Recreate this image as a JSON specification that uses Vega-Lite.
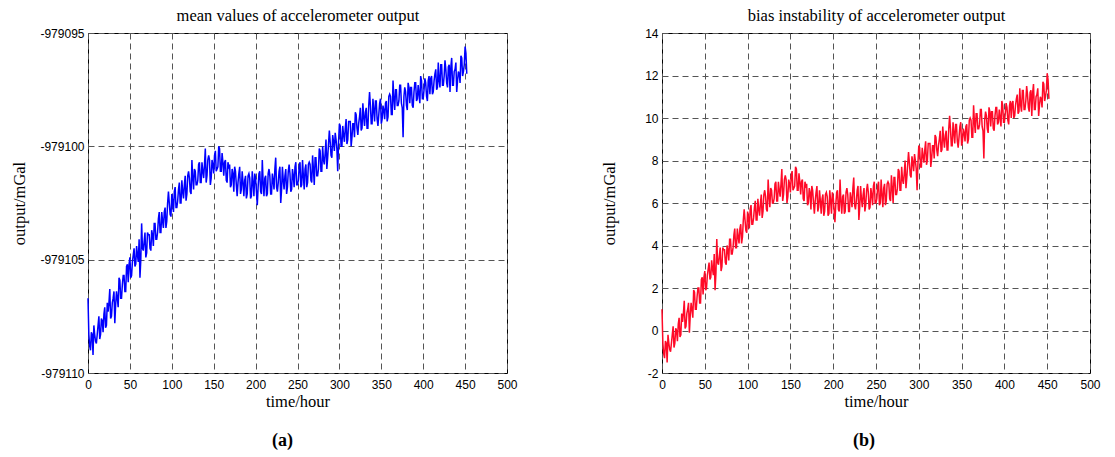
{
  "$schema": "https://vega.github.io/schema/vega-lite/v6.json",
  "background": "white",
  "padding": {"left": 11, "top": 6, "right": 5, "bottom": 2},
  "spacing": 83,
  "config": {
    "view": {"stroke": "black", "strokeWidth": 1},
    "axis": {
      "labelFont": "Liberation Sans",
      "labelFontSize": 12,
      "labelColor": "black",
      "titleFont": "Liberation Serif",
      "titleFontSize": 16.5,
      "titleFontWeight": "normal",
      "titleColor": "black",
      "ticks": false,
      "domain": false,
      "gridColor": "#555555",
      "gridDash": [6, 4],
      "gridWidth": 1,
      "gridOpacity": 1
    },
    "title": {"font": "Liberation Serif", "fontSize": 18, "fontWeight": "bold", "color": "black"}
  },
  "data": {"values": [
    {"t":0,"m":-979106.7,"b":1.0},{"t":2,"m":-979108.8,"b":-1.1},{"t":4,"m":-979108.2,"b":-0.5},{"t":6,"m":-979109.2,"b":-1.5},{"t":8,"m":-979108.3,"b":-0.6},
    {"t":10,"m":-979108.7,"b":-1.0},{"t":12,"m":-979107.9,"b":-0.2},{"t":14,"m":-979108.5,"b":-0.8},{"t":16,"m":-979107.6,"b":0.1},{"t":18,"m":-979108.2,"b":-0.5},
    {"t":20,"m":-979107.1,"b":0.6},{"t":22,"m":-979107.9,"b":-0.2},{"t":24,"m":-979107.3,"b":0.4},{"t":26,"m":-979106.3,"b":1.4},{"t":28,"m":-979107.5,"b":0.2},
    {"t":30,"m":-979106.7,"b":1.0},{"t":32,"m":-979107.8,"b":-0.1},{"t":34,"m":-979106.4,"b":1.3},{"t":36,"m":-979107.1,"b":0.6},{"t":38,"m":-979105.9,"b":1.8},
    {"t":40,"m":-979106.7,"b":1.0},{"t":42,"m":-979105.7,"b":2.0},{"t":44,"m":-979106.4,"b":1.3},{"t":46,"m":-979105.3,"b":2.4},{"t":48,"m":-979106.0,"b":1.7},
    {"t":50,"m":-979104.9,"b":2.8},{"t":52,"m":-979105.7,"b":2.0},{"t":54,"m":-979104.8,"b":2.9},{"t":56,"m":-979105.3,"b":2.4},{"t":58,"m":-979104.4,"b":3.3},
    {"t":60,"m":-979105.1,"b":2.6},{"t":62,"m":-979105.8,"b":1.9},{"t":64,"m":-979103.4,"b":4.3},{"t":66,"m":-979104.6,"b":3.1},{"t":68,"m":-979103.8,"b":3.9},
    {"t":70,"m":-979104.7,"b":3.0},{"t":72,"m":-979103.9,"b":3.8},{"t":74,"m":-979104.5,"b":3.2},{"t":76,"m":-979103.7,"b":4.0},{"t":78,"m":-979104.4,"b":3.3},
    {"t":80,"m":-979103.4,"b":4.3},{"t":82,"m":-979104.1,"b":3.6},{"t":84,"m":-979103.2,"b":4.5},{"t":86,"m":-979103.8,"b":3.9},{"t":88,"m":-979102.9,"b":4.8},
    {"t":90,"m":-979103.6,"b":4.1},{"t":92,"m":-979102.7,"b":5.0},{"t":94,"m":-979103.3,"b":4.4},{"t":96,"m":-979102.0,"b":5.7},{"t":98,"m":-979103.0,"b":4.7},
    {"t":100,"m":-979102.1,"b":5.6},{"t":102,"m":-979102.9,"b":4.8},{"t":104,"m":-979101.8,"b":5.9},{"t":106,"m":-979102.7,"b":5.0},{"t":108,"m":-979101.9,"b":5.8},
    {"t":110,"m":-979102.5,"b":5.2},{"t":112,"m":-979101.5,"b":6.2},{"t":114,"m":-979102.3,"b":5.4},{"t":116,"m":-979101.3,"b":6.4},{"t":118,"m":-979102.1,"b":5.6},
    {"t":120,"m":-979101.1,"b":6.6},{"t":122,"m":-979102.0,"b":5.7},{"t":124,"m":-979100.6,"b":7.1},{"t":126,"m":-979101.9,"b":5.8},{"t":128,"m":-979101.1,"b":6.6},
    {"t":130,"m":-979101.7,"b":6.0},{"t":132,"m":-979100.8,"b":6.9},{"t":134,"m":-979101.6,"b":6.1},{"t":136,"m":-979100.7,"b":7.0},{"t":138,"m":-979101.4,"b":6.3},
    {"t":140,"m":-979100.1,"b":7.6},{"t":142,"m":-979101.3,"b":6.4},{"t":144,"m":-979100.4,"b":7.3},{"t":146,"m":-979101.7,"b":6.0},{"t":148,"m":-979100.6,"b":7.1},
    {"t":150,"m":-979101.2,"b":6.5},{"t":152,"m":-979100.2,"b":7.5},{"t":154,"m":-979101.0,"b":6.7},{"t":156,"m":-979100.0,"b":7.7},{"t":158,"m":-979101.1,"b":6.6},
    {"t":160,"m":-979100.3,"b":7.4},{"t":162,"m":-979101.3,"b":6.4},{"t":164,"m":-979100.6,"b":7.1},{"t":166,"m":-979101.6,"b":6.1},{"t":168,"m":-979100.9,"b":6.8},
    {"t":170,"m":-979101.8,"b":5.9},{"t":172,"m":-979101.0,"b":6.7},{"t":174,"m":-979102.0,"b":5.7},{"t":176,"m":-979101.1,"b":6.6},{"t":178,"m":-979102.2,"b":5.5},
    {"t":180,"m":-979101.2,"b":6.5},{"t":182,"m":-979102.1,"b":5.6},{"t":184,"m":-979101.1,"b":6.6},{"t":186,"m":-979102.2,"b":5.5},{"t":188,"m":-979101.3,"b":6.4},
    {"t":190,"m":-979102.1,"b":5.6},{"t":192,"m":-979101.2,"b":6.5},{"t":194,"m":-979102.3,"b":5.4},{"t":196,"m":-979101.1,"b":6.6},{"t":198,"m":-979102.2,"b":5.5},
    {"t":200,"m":-979101.4,"b":6.3},{"t":202,"m":-979102.6,"b":5.1},{"t":204,"m":-979101.2,"b":6.5},{"t":206,"m":-979102.0,"b":5.7},{"t":208,"m":-979100.6,"b":7.1},
    {"t":210,"m":-979102.2,"b":5.5},{"t":212,"m":-979101.3,"b":6.4},{"t":214,"m":-979102.1,"b":5.6},{"t":216,"m":-979101.0,"b":6.7},{"t":218,"m":-979102.1,"b":5.6},
    {"t":220,"m":-979101.2,"b":6.5},{"t":222,"m":-979101.9,"b":5.8},{"t":224,"m":-979100.5,"b":7.2},{"t":226,"m":-979102.0,"b":5.7},{"t":228,"m":-979101.1,"b":6.6},
    {"t":230,"m":-979102.5,"b":5.2},{"t":232,"m":-979100.9,"b":6.8},{"t":234,"m":-979101.9,"b":5.8},{"t":236,"m":-979101.0,"b":6.7},{"t":238,"m":-979101.8,"b":5.9},
    {"t":240,"m":-979100.8,"b":6.9},{"t":242,"m":-979102.0,"b":5.7},{"t":244,"m":-979101.0,"b":6.7},{"t":246,"m":-979101.8,"b":5.9},{"t":248,"m":-979100.7,"b":7.0},
    {"t":250,"m":-979101.7,"b":6.0},{"t":252,"m":-979100.9,"b":6.8},{"t":254,"m":-979101.8,"b":5.9},{"t":256,"m":-979100.6,"b":7.1},{"t":258,"m":-979101.9,"b":5.8},
    {"t":260,"m":-979100.8,"b":6.9},{"t":262,"m":-979101.6,"b":6.1},{"t":264,"m":-979100.7,"b":7.0},{"t":266,"m":-979101.5,"b":6.2},{"t":268,"m":-979100.4,"b":7.3},
    {"t":270,"m":-979101.7,"b":6.0},{"t":272,"m":-979100.5,"b":7.2},{"t":274,"m":-979101.3,"b":6.4},{"t":276,"m":-979100.1,"b":7.6},{"t":278,"m":-979101.1,"b":6.6},
    {"t":280,"m":-979100.0,"b":7.7},{"t":282,"m":-979100.8,"b":6.9},{"t":284,"m":-979099.7,"b":8.0},{"t":286,"m":-979100.5,"b":7.2},{"t":288,"m":-979099.3,"b":8.4},
    {"t":290,"m":-979100.4,"b":7.3},{"t":292,"m":-979099.5,"b":8.2},{"t":294,"m":-979100.2,"b":7.5},{"t":296,"m":-979099.7,"b":8.0},{"t":298,"m":-979101.1,"b":6.6},
    {"t":300,"m":-979099.0,"b":8.7},{"t":302,"m":-979100.0,"b":7.7},{"t":304,"m":-979099.1,"b":8.6},{"t":306,"m":-979099.8,"b":7.9},{"t":308,"m":-979098.8,"b":8.9},
    {"t":310,"m":-979099.7,"b":8.0},{"t":312,"m":-979098.9,"b":8.8},{"t":314,"m":-979100.0,"b":7.7},{"t":316,"m":-979099.0,"b":8.7},{"t":318,"m":-979099.6,"b":8.1},
    {"t":320,"m":-979098.6,"b":9.1},{"t":322,"m":-979099.5,"b":8.2},{"t":324,"m":-979098.7,"b":9.0},{"t":326,"m":-979099.3,"b":8.4},{"t":328,"m":-979098.1,"b":9.6},
    {"t":330,"m":-979099.1,"b":8.6},{"t":332,"m":-979098.3,"b":9.4},{"t":334,"m":-979099.2,"b":8.5},{"t":336,"m":-979097.6,"b":10.1},{"t":338,"m":-979099.0,"b":8.7},
    {"t":340,"m":-979097.9,"b":9.8},{"t":342,"m":-979098.9,"b":8.8},{"t":344,"m":-979098.0,"b":9.7},{"t":346,"m":-979099.1,"b":8.6},{"t":348,"m":-979098.1,"b":9.6},
    {"t":350,"m":-979099.0,"b":8.7},{"t":352,"m":-979098.2,"b":9.5},{"t":354,"m":-979098.8,"b":8.9},{"t":356,"m":-979098.0,"b":9.7},{"t":358,"m":-979098.7,"b":9.0},
    {"t":360,"m":-979097.7,"b":10.0},{"t":362,"m":-979098.6,"b":9.1},{"t":364,"m":-979097.1,"b":10.6},{"t":366,"m":-979098.4,"b":9.3},{"t":368,"m":-979097.5,"b":10.2},
    {"t":370,"m":-979098.2,"b":9.5},{"t":372,"m":-979097.3,"b":10.4},{"t":374,"m":-979098.1,"b":9.6},{"t":376,"m":-979099.6,"b":8.1},{"t":378,"m":-979097.4,"b":10.3},
    {"t":380,"m":-979098.2,"b":9.5},{"t":382,"m":-979097.2,"b":10.5},{"t":384,"m":-979098.1,"b":9.6},{"t":386,"m":-979097.4,"b":10.3},{"t":388,"m":-979098.3,"b":9.4},
    {"t":390,"m":-979097.2,"b":10.5},{"t":392,"m":-979098.0,"b":9.7},{"t":394,"m":-979097.3,"b":10.4},{"t":396,"m":-979098.1,"b":9.6},{"t":398,"m":-979097.1,"b":10.6},
    {"t":400,"m":-979097.9,"b":9.8},{"t":402,"m":-979097.0,"b":10.7},{"t":404,"m":-979097.8,"b":9.9},{"t":406,"m":-979097.1,"b":10.6},{"t":408,"m":-979097.7,"b":10.0},
    {"t":410,"m":-979096.9,"b":10.8},{"t":412,"m":-979097.6,"b":10.1},{"t":414,"m":-979096.8,"b":10.9},{"t":416,"m":-979097.5,"b":10.2},{"t":418,"m":-979096.3,"b":11.4},
    {"t":420,"m":-979097.4,"b":10.3},{"t":422,"m":-979096.4,"b":11.3},{"t":424,"m":-979097.3,"b":10.4},{"t":426,"m":-979096.2,"b":11.5},{"t":428,"m":-979097.2,"b":10.5},
    {"t":430,"m":-979096.5,"b":11.2},{"t":432,"m":-979097.6,"b":10.1},{"t":434,"m":-979096.1,"b":11.6},{"t":436,"m":-979097.3,"b":10.4},{"t":438,"m":-979096.6,"b":11.1},
    {"t":440,"m":-979097.6,"b":10.1},{"t":442,"m":-979096.7,"b":11.0},{"t":444,"m":-979097.2,"b":10.5},{"t":446,"m":-979096.1,"b":11.6},{"t":448,"m":-979096.7,"b":11.0},
    {"t":450,"m":-979095.6,"b":12.1},{"t":452,"m":-979096.8,"b":10.9},
    {"t":1,"m":-979108.3,"b":-0.6},{"t":3,"m":-979109.0,"b":-1.3},{"t":5,"m":-979108.3,"b":-0.6},{"t":7,"m":-979107.9,"b":-0.2},{"t":9,"m":-979108.6,"b":-0.9},
    {"t":11,"m":-979108.3,"b":-0.6},{"t":13,"m":-979107.5,"b":0.2},{"t":15,"m":-979108.3,"b":-0.6},{"t":17,"m":-979107.7,"b":0.0},{"t":19,"m":-979107.4,"b":0.3},
    {"t":21,"m":-979108.0,"b":-0.3},{"t":23,"m":-979106.9,"b":0.8},{"t":25,"m":-979106.9,"b":0.8},{"t":27,"m":-979107.6,"b":0.1},{"t":29,"m":-979106.9,"b":0.8},
    {"t":31,"m":-979106.4,"b":1.3},{"t":33,"m":-979107.0,"b":0.7},{"t":35,"m":-979106.7,"b":1.0},{"t":37,"m":-979105.8,"b":1.9},{"t":39,"m":-979106.7,"b":1.0},
    {"t":41,"m":-979106.1,"b":1.6},{"t":43,"m":-979105.7,"b":2.0},{"t":45,"m":-979106.4,"b":1.3},{"t":47,"m":-979105.2,"b":2.5},{"t":49,"m":-979105.2,"b":2.5},
    {"t":51,"m":-979105.8,"b":1.9},{"t":53,"m":-979105.1,"b":2.6},{"t":55,"m":-979104.5,"b":3.2},{"t":57,"m":-979105.2,"b":2.5},{"t":59,"m":-979104.8,"b":2.9},
    {"t":61,"m":-979104.1,"b":3.6},{"t":63,"m":-979105.0,"b":2.7},{"t":65,"m":-979104.5,"b":3.2},{"t":67,"m":-979104.2,"b":3.5},{"t":69,"m":-979104.9,"b":2.8},
    {"t":71,"m":-979103.8,"b":3.9},{"t":73,"m":-979103.9,"b":3.8},{"t":75,"m":-979104.6,"b":3.1},{"t":77,"m":-979103.9,"b":3.8},{"t":79,"m":-979103.4,"b":4.3},
    {"t":81,"m":-979104.1,"b":3.6},{"t":83,"m":-979103.8,"b":3.9},{"t":85,"m":-979102.9,"b":4.8},{"t":87,"m":-979103.8,"b":3.9},{"t":89,"m":-979103.3,"b":4.4},
    {"t":91,"m":-979102.9,"b":4.8},{"t":93,"m":-979103.6,"b":4.1},{"t":95,"m":-979102.5,"b":5.2},{"t":97,"m":-979102.5,"b":5.2},{"t":99,"m":-979103.1,"b":4.6},
    {"t":101,"m":-979102.4,"b":5.3},{"t":103,"m":-979102.0,"b":5.7},{"t":105,"m":-979102.7,"b":5.0},{"t":107,"m":-979102.4,"b":5.3},{"t":109,"m":-979101.6,"b":6.1},
    {"t":111,"m":-979102.5,"b":5.2},{"t":113,"m":-979102.0,"b":5.7},{"t":115,"m":-979101.7,"b":6.0},{"t":117,"m":-979102.4,"b":5.3},{"t":119,"m":-979101.3,"b":6.4},
    {"t":121,"m":-979101.4,"b":6.3},{"t":123,"m":-979102.1,"b":5.6},{"t":125,"m":-979101.4,"b":6.3},{"t":127,"m":-979101.0,"b":6.7},{"t":129,"m":-979101.7,"b":6.0},
    {"t":131,"m":-979101.5,"b":6.2},{"t":133,"m":-979100.7,"b":7.0},{"t":135,"m":-979101.6,"b":6.1},{"t":137,"m":-979101.1,"b":6.6},{"t":139,"m":-979100.8,"b":6.9},
    {"t":141,"m":-979101.6,"b":6.1},{"t":143,"m":-979100.6,"b":7.1},{"t":145,"m":-979100.6,"b":7.1},{"t":147,"m":-979101.4,"b":6.3},{"t":149,"m":-979100.8,"b":6.9},
    {"t":151,"m":-979100.4,"b":7.3},{"t":153,"m":-979101.1,"b":6.6},{"t":155,"m":-979100.9,"b":6.8},{"t":157,"m":-979100.1,"b":7.6},{"t":159,"m":-979101.1,"b":6.6},
    {"t":161,"m":-979100.7,"b":7.0},{"t":163,"m":-979100.7,"b":7.0},{"t":165,"m":-979101.5,"b":6.2},{"t":167,"m":-979100.7,"b":7.0},{"t":169,"m":-979100.8,"b":6.9},
    {"t":171,"m":-979101.7,"b":6.0},{"t":173,"m":-979101.2,"b":6.5},{"t":175,"m":-979100.9,"b":6.8},{"t":177,"m":-979101.7,"b":6.0},{"t":179,"m":-979101.6,"b":6.1},
    {"t":181,"m":-979100.9,"b":6.8},{"t":183,"m":-979101.9,"b":5.8},{"t":185,"m":-979101.6,"b":6.1},{"t":187,"m":-979101.5,"b":6.2},{"t":189,"m":-979102.3,"b":5.4},
    {"t":191,"m":-979101.3,"b":6.4},{"t":193,"m":-979101.4,"b":6.3},{"t":195,"m":-979102.2,"b":5.5},{"t":197,"m":-979101.6,"b":6.1},{"t":199,"m":-979101.2,"b":6.5},
    {"t":201,"m":-979102.0,"b":5.7},{"t":203,"m":-979101.8,"b":5.9},{"t":205,"m":-979101.1,"b":6.6},{"t":207,"m":-979102.1,"b":5.6},{"t":209,"m":-979101.6,"b":6.1},
    {"t":211,"m":-979101.4,"b":6.3},{"t":213,"m":-979102.2,"b":5.5},{"t":215,"m":-979101.2,"b":6.5},{"t":217,"m":-979101.3,"b":6.4},{"t":219,"m":-979102.1,"b":5.6},
    {"t":221,"m":-979101.5,"b":6.2},{"t":223,"m":-979101.0,"b":6.7},{"t":225,"m":-979101.8,"b":5.9},{"t":227,"m":-979101.6,"b":6.1},{"t":229,"m":-979100.9,"b":6.8},
    {"t":231,"m":-979101.9,"b":5.8},{"t":233,"m":-979101.5,"b":6.2},{"t":235,"m":-979101.3,"b":6.4},{"t":237,"m":-979102.1,"b":5.6},{"t":239,"m":-979101.1,"b":6.6},
    {"t":241,"m":-979101.2,"b":6.5},{"t":243,"m":-979101.9,"b":5.8},{"t":245,"m":-979101.3,"b":6.4},{"t":247,"m":-979100.9,"b":6.8},{"t":249,"m":-979101.7,"b":6.0},
    {"t":251,"m":-979101.5,"b":6.2},{"t":253,"m":-979100.7,"b":7.0},{"t":255,"m":-979101.7,"b":6.0},{"t":257,"m":-979101.3,"b":6.4},{"t":259,"m":-979101.0,"b":6.7},
    {"t":261,"m":-979101.8,"b":5.9},{"t":263,"m":-979100.8,"b":6.9},{"t":265,"m":-979100.8,"b":6.9},{"t":267,"m":-979101.6,"b":6.1},{"t":269,"m":-979101.0,"b":6.7},
    {"t":271,"m":-979100.5,"b":7.2},{"t":273,"m":-979101.3,"b":6.4},{"t":275,"m":-979101.0,"b":6.7},{"t":277,"m":-979100.2,"b":7.5},{"t":279,"m":-979101.1,"b":6.6},
    {"t":281,"m":-979100.6,"b":7.1},{"t":283,"m":-979100.3,"b":7.4},{"t":285,"m":-979101.0,"b":6.7},{"t":287,"m":-979099.9,"b":7.8},{"t":289,"m":-979099.8,"b":7.9},
    {"t":291,"m":-979100.5,"b":7.2},{"t":293,"m":-979099.8,"b":7.9},{"t":295,"m":-979099.4,"b":8.3},{"t":297,"m":-979100.1,"b":7.6},{"t":299,"m":-979099.8,"b":7.9},
    {"t":301,"m":-979099.1,"b":8.6},{"t":303,"m":-979100.0,"b":7.7},{"t":305,"m":-979099.5,"b":8.2},{"t":307,"m":-979099.2,"b":8.5},{"t":309,"m":-979099.9,"b":7.8},
    {"t":311,"m":-979098.9,"b":8.8},{"t":313,"m":-979098.9,"b":8.8},{"t":315,"m":-979099.6,"b":8.1},{"t":317,"m":-979099.0,"b":8.7},{"t":319,"m":-979098.5,"b":9.2},
    {"t":321,"m":-979099.2,"b":8.5},{"t":323,"m":-979099.0,"b":8.7},{"t":325,"m":-979098.3,"b":9.4},{"t":327,"m":-979099.2,"b":8.5},{"t":329,"m":-979098.7,"b":9.0},
    {"t":331,"m":-979098.5,"b":9.2},{"t":333,"m":-979099.2,"b":8.5},{"t":335,"m":-979098.2,"b":9.5},{"t":337,"m":-979098.2,"b":9.5},{"t":339,"m":-979099.0,"b":8.7},
    {"t":341,"m":-979098.4,"b":9.3},{"t":343,"m":-979098.0,"b":9.7},{"t":345,"m":-979098.8,"b":8.9},{"t":347,"m":-979098.6,"b":9.1},{"t":349,"m":-979097.9,"b":9.8},
    {"t":351,"m":-979098.8,"b":8.9},{"t":353,"m":-979098.4,"b":9.3},{"t":355,"m":-979098.1,"b":9.6},{"t":357,"m":-979098.9,"b":8.8},{"t":359,"m":-979097.8,"b":9.9},
    {"t":361,"m":-979097.8,"b":9.9},{"t":363,"m":-979098.6,"b":9.1},{"t":365,"m":-979097.9,"b":9.8},{"t":367,"m":-979097.5,"b":10.2},{"t":369,"m":-979098.2,"b":9.5},
    {"t":371,"m":-979098.0,"b":9.7},{"t":373,"m":-979097.3,"b":10.4},{"t":375,"m":-979098.3,"b":9.4},{"t":377,"m":-979097.8,"b":9.9},{"t":379,"m":-979097.6,"b":10.1},
    {"t":381,"m":-979098.4,"b":9.3},{"t":383,"m":-979097.4,"b":10.3},{"t":385,"m":-979097.4,"b":10.3},{"t":387,"m":-979098.2,"b":9.5},{"t":389,"m":-979097.6,"b":10.1},
    {"t":391,"m":-979097.2,"b":10.5},{"t":393,"m":-979097.9,"b":9.8},{"t":395,"m":-979097.7,"b":10.0},{"t":397,"m":-979096.9,"b":10.8},{"t":399,"m":-979097.9,"b":9.8},
    {"t":401,"m":-979097.5,"b":10.2},{"t":403,"m":-979097.2,"b":10.5},{"t":405,"m":-979098.0,"b":9.7},{"t":407,"m":-979096.9,"b":10.8},{"t":409,"m":-979097.0,"b":10.7},
    {"t":411,"m":-979097.7,"b":10.0},{"t":413,"m":-979097.1,"b":10.6},{"t":415,"m":-979096.6,"b":11.1},{"t":417,"m":-979097.4,"b":10.3},{"t":419,"m":-979097.1,"b":10.6},
    {"t":421,"m":-979096.4,"b":11.3},{"t":423,"m":-979097.3,"b":10.4},{"t":425,"m":-979096.9,"b":10.8},{"t":427,"m":-979096.6,"b":11.1},{"t":429,"m":-979097.4,"b":10.3},
    {"t":431,"m":-979096.4,"b":11.3},{"t":433,"m":-979096.5,"b":11.2},{"t":435,"m":-979097.3,"b":10.4},{"t":437,"m":-979096.7,"b":11.0},{"t":439,"m":-979096.3,"b":11.4},
    {"t":441,"m":-979097.1,"b":10.6},{"t":443,"m":-979096.8,"b":10.9},{"t":445,"m":-979096.0,"b":11.7},{"t":447,"m":-979096.9,"b":10.8},{"t":449,"m":-979096.4,"b":11.3},
    {"t":451,"m":-979095.9,"b":11.8}
  ]},
  "hconcat": [
    {
      "width": 419,
      "height": 340,
      "title": {"text": "(a)", "orient": "bottom", "anchor": "middle", "frame": "group", "offset": 22, "dx": -15},
      "layer": [
        {
          "mark": {"type": "line", "color": "#0000ff", "strokeWidth": 1.5},
          "encoding": {
            "x": {"field": "t", "type": "quantitative", "scale": {"domain": [0, 500], "nice": false},
              "axis": {"orient": "bottom", "title": "time/hour", "values": [0,50,100,150,200,250,300,350,400,450,500], "labelPadding": 6, "titlePadding": 3, "labelFlush": false}},
            "y": {"field": "m", "type": "quantitative", "scale": {"domain": [-979110, -979095], "nice": false, "zero": false},
              "axis": {"title": "output/mGal", "values": [-979110, -979105, -979100, -979095], "labelExpr": "'' + datum.value", "labelPadding": 4, "titlePadding": 12}}
          }
        },
        {
          "mark": {"type": "line", "strokeOpacity": 0},
          "encoding": {
            "x": {"field": "t", "type": "quantitative",
              "axis": {"orient": "top", "title": "mean values of accelerometer output", "labels": false, "grid": false, "titlePadding": 10}},
            "y": {"field": "m", "type": "quantitative",
              "axis": {"title": "output/mGal", "values": [-979110, -979105, -979100, -979095], "labelExpr": "'' + datum.value", "labelPadding": 4, "titlePadding": 12}}
          }
        }
      ],
      "resolve": {"axis": {"x": "independent"}}
    },
    {
      "width": 428,
      "height": 340,
      "title": {"text": "(b)", "orient": "bottom", "anchor": "middle", "frame": "group", "offset": 22, "dx": -12},
      "layer": [
        {
          "mark": {"type": "line", "color": "#ff0a28", "strokeWidth": 1.5},
          "encoding": {
            "x": {"field": "t", "type": "quantitative", "scale": {"domain": [0, 500], "nice": false},
              "axis": {"orient": "bottom", "title": "time/hour", "values": [0,50,100,150,200,250,300,350,400,450,500], "labelPadding": 6, "titlePadding": 3, "labelFlush": false}},
            "y": {"field": "b", "type": "quantitative", "scale": {"domain": [-2, 14], "nice": false, "zero": false},
              "axis": {"title": "output/mGal", "values": [-2,0,2,4,6,8,10,12,14], "labelExpr": "'' + datum.value", "labelPadding": 4, "titlePadding": 27}}
          }
        },
        {
          "mark": {"type": "line", "strokeOpacity": 0},
          "encoding": {
            "x": {"field": "t", "type": "quantitative",
              "axis": {"orient": "top", "title": "bias instability of accelerometer output", "labels": false, "grid": false, "titlePadding": 10}},
            "y": {"field": "b", "type": "quantitative",
              "axis": {"title": "output/mGal", "values": [-2,0,2,4,6,8,10,12,14], "labelExpr": "'' + datum.value", "labelPadding": 4, "titlePadding": 27}}
          }
        }
      ],
      "resolve": {"axis": {"x": "independent"}}
    }
  ]
}
